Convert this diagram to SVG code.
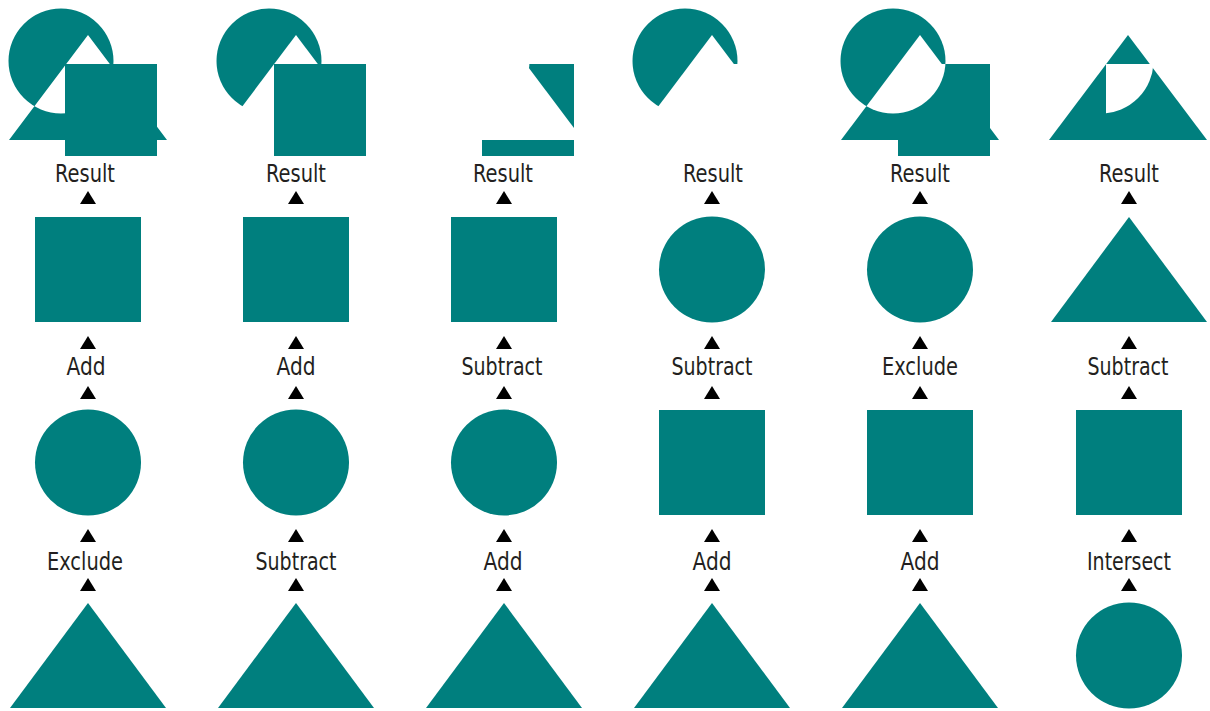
<svg xmlns="http://www.w3.org/2000/svg" width="1210" height="711" viewBox="0 0 1210 711">
  <style>
    .shape { fill: #007f7e; }
    .lbl { font-family: "DejaVu Sans Condensed", "Liberation Sans Narrow", "Liberation Sans", sans-serif; font-size: 25px; fill: #231f20; text-anchor: middle; }
    .arrow { fill: #000; }
  </style>
  <defs>
    <rect id="sq" x="-53" y="0" width="106" height="105"/>
    <circle id="ci" cx="0" cy="52.5" r="53"/>
    <polygon id="tr" points="0,0 -78,105 78,105"/>
    <polygon id="ah" points="0,0 -8,13 8,13"/>
    <clipPath id="clipS">
      <rect x="66" y="64" width="92" height="92"/>
    </clipPath>
    <mask id="mNotT" maskUnits="userSpaceOnUse" x="-10" y="-10" width="200" height="180">
      <rect x="-10" y="-10" width="200" height="180" fill="#fff"/>
      <polygon points="88,35 9,140 167,140" fill="#000"/>
    </mask>
    <mask id="mNotTC" maskUnits="userSpaceOnUse" x="-10" y="-10" width="200" height="180">
      <rect x="-10" y="-10" width="200" height="180" fill="#fff"/>
      <polygon points="88,35 9,140 167,140" fill="#000"/>
      <circle cx="61" cy="61" r="52.5" fill="#000"/>
    </mask>
    <mask id="mNotTS" maskUnits="userSpaceOnUse" x="-10" y="-10" width="200" height="180">
      <rect x="-10" y="-10" width="200" height="180" fill="#fff"/>
      <polygon points="88,35 9,140 167,140" fill="#000"/>
      <rect x="66" y="64" width="92" height="92" fill="#000"/>
    </mask>
    <mask id="mNotC" maskUnits="userSpaceOnUse" x="-10" y="-10" width="200" height="180">
      <rect x="-10" y="-10" width="200" height="180" fill="#fff"/>
      <circle cx="61" cy="61" r="52.5" fill="#000"/>
    </mask>
    <mask id="mNotCS" maskUnits="userSpaceOnUse" x="-10" y="-10" width="200" height="180">
      <rect x="-10" y="-10" width="200" height="180" fill="#fff"/>
      <circle cx="61" cy="61" r="52.5" fill="#000" clip-path="url(#clipS)"/>
    </mask>
  </defs>

  <!-- Results (top row) -->
  <g id="result-1" class="shape">
    <path fill-rule="evenodd" d="M8.5,61 a52.5,52.5 0 1,0 105,0 a52.5,52.5 0 1,0 -105,0 Z M88,35 L9,140 L167,140 Z"/>
    <rect x="65" y="64" width="92" height="92"/>
  </g>
  <g id="result-2" class="shape" transform="translate(208,0)">
    <circle cx="61" cy="61" r="52.5" mask="url(#mNotT)"/>
    <rect x="66" y="64" width="92" height="92"/>
  </g>
  <g id="result-3" class="shape" transform="translate(416,0)">
    <rect x="66" y="64" width="92" height="92" mask="url(#mNotTC)"/>
  </g>
  <g id="result-4" class="shape" transform="translate(624,0)">
    <circle cx="61" cy="61" r="52.5" mask="url(#mNotTS)"/>
  </g>
  <g id="result-5" class="shape" transform="translate(832,0)">
    <g mask="url(#mNotC)">
      <polygon points="88,35 9,140 167,140"/>
      <rect x="66" y="64" width="92" height="92"/>
    </g>
    <circle cx="61" cy="61" r="52.5" mask="url(#mNotTS)"/>
  </g>
  <g id="result-6" class="shape" transform="translate(1040,0)">
    <polygon points="88,35 9,140 167,140" mask="url(#mNotCS)"/>
  </g>

  <!-- Result labels -->
  <g id="label-result-1"><text class="lbl" x="85" y="182" textLength="60" lengthAdjust="spacingAndGlyphs">Result</text></g>
  <g id="label-result-2"><text class="lbl" x="296" y="182" textLength="60" lengthAdjust="spacingAndGlyphs">Result</text></g>
  <g id="label-result-3"><text class="lbl" x="503" y="182" textLength="60" lengthAdjust="spacingAndGlyphs">Result</text></g>
  <g id="label-result-4"><text class="lbl" x="713" y="182" textLength="60" lengthAdjust="spacingAndGlyphs">Result</text></g>
  <g id="label-result-5"><text class="lbl" x="920" y="182" textLength="60" lengthAdjust="spacingAndGlyphs">Result</text></g>
  <g id="label-result-6"><text class="lbl" x="1129" y="182" textLength="60" lengthAdjust="spacingAndGlyphs">Result</text></g>

  <!-- Row 2 shapes -->
  <g id="c1-row2" class="shape"><use href="#sq" x="88" y="217"/></g>
  <g id="c2-row2" class="shape"><use href="#sq" x="296" y="217"/></g>
  <g id="c3-row2" class="shape"><use href="#sq" x="504" y="217"/></g>
  <g id="c4-row2" class="shape"><use href="#ci" x="712" y="217"/></g>
  <g id="c5-row2" class="shape"><use href="#ci" x="920" y="217"/></g>
  <g id="c6-row2" class="shape"><use href="#tr" x="1129" y="217"/></g>

  <!-- Operation labels (upper) -->
  <g id="op1-1"><text class="lbl" x="86" y="375" textLength="39" lengthAdjust="spacingAndGlyphs">Add</text></g>
  <g id="op2-1"><text class="lbl" x="296" y="375" textLength="39" lengthAdjust="spacingAndGlyphs">Add</text></g>
  <g id="op3-1"><text class="lbl" x="502" y="375" textLength="81" lengthAdjust="spacingAndGlyphs">Subtract</text></g>
  <g id="op4-1"><text class="lbl" x="712" y="375" textLength="81" lengthAdjust="spacingAndGlyphs">Subtract</text></g>
  <g id="op5-1"><text class="lbl" x="920" y="375" textLength="76" lengthAdjust="spacingAndGlyphs">Exclude</text></g>
  <g id="op6-1"><text class="lbl" x="1128" y="375" textLength="81" lengthAdjust="spacingAndGlyphs">Subtract</text></g>

  <!-- Row 3 shapes -->
  <g id="c1-row3" class="shape"><use href="#ci" x="88" y="410"/></g>
  <g id="c2-row3" class="shape"><use href="#ci" x="296" y="410"/></g>
  <g id="c3-row3" class="shape"><use href="#ci" x="504" y="410"/></g>
  <g id="c4-row3" class="shape"><use href="#sq" x="712" y="410"/></g>
  <g id="c5-row3" class="shape"><use href="#sq" x="920" y="410"/></g>
  <g id="c6-row3" class="shape"><use href="#sq" x="1129" y="410"/></g>

  <!-- Operation labels (lower) -->
  <g id="op1-2"><text class="lbl" x="85" y="570" textLength="76" lengthAdjust="spacingAndGlyphs">Exclude</text></g>
  <g id="op2-2"><text class="lbl" x="296" y="570" textLength="81" lengthAdjust="spacingAndGlyphs">Subtract</text></g>
  <g id="op3-2"><text class="lbl" x="503" y="570" textLength="39" lengthAdjust="spacingAndGlyphs">Add</text></g>
  <g id="op4-2"><text class="lbl" x="712" y="570" textLength="39" lengthAdjust="spacingAndGlyphs">Add</text></g>
  <g id="op5-2"><text class="lbl" x="920" y="570" textLength="39" lengthAdjust="spacingAndGlyphs">Add</text></g>
  <g id="op6-2"><text class="lbl" x="1129" y="570" textLength="84" lengthAdjust="spacingAndGlyphs">Intersect</text></g>

  <!-- Row 4 shapes -->
  <g id="c1-row4" class="shape"><use href="#tr" x="88" y="603"/></g>
  <g id="c2-row4" class="shape"><use href="#tr" x="296" y="603"/></g>
  <g id="c3-row4" class="shape"><use href="#tr" x="504" y="603"/></g>
  <g id="c4-row4" class="shape"><use href="#tr" x="712" y="603"/></g>
  <g id="c5-row4" class="shape"><use href="#tr" x="920" y="603"/></g>
  <g id="c6-row4" class="shape"><use href="#ci" x="1129" y="603"/></g>

  <!-- Connectors (arrowheads) -->
  <g id="connectors" class="arrow">
    <use href="#ah" x="88" y="191"/><use href="#ah" x="88" y="336"/><use href="#ah" x="88" y="386"/><use href="#ah" x="88" y="529"/><use href="#ah" x="88" y="578"/>
    <use href="#ah" x="296" y="191"/><use href="#ah" x="296" y="336"/><use href="#ah" x="296" y="386"/><use href="#ah" x="296" y="529"/><use href="#ah" x="296" y="578"/>
    <use href="#ah" x="504" y="191"/><use href="#ah" x="504" y="336"/><use href="#ah" x="504" y="386"/><use href="#ah" x="504" y="529"/><use href="#ah" x="504" y="578"/>
    <use href="#ah" x="712" y="191"/><use href="#ah" x="712" y="336"/><use href="#ah" x="712" y="386"/><use href="#ah" x="712" y="529"/><use href="#ah" x="712" y="578"/>
    <use href="#ah" x="920" y="191"/><use href="#ah" x="920" y="336"/><use href="#ah" x="920" y="386"/><use href="#ah" x="920" y="529"/><use href="#ah" x="920" y="578"/>
    <use href="#ah" x="1129" y="191"/><use href="#ah" x="1129" y="336"/><use href="#ah" x="1129" y="386"/><use href="#ah" x="1129" y="529"/><use href="#ah" x="1129" y="578"/>
  </g>
</svg>
